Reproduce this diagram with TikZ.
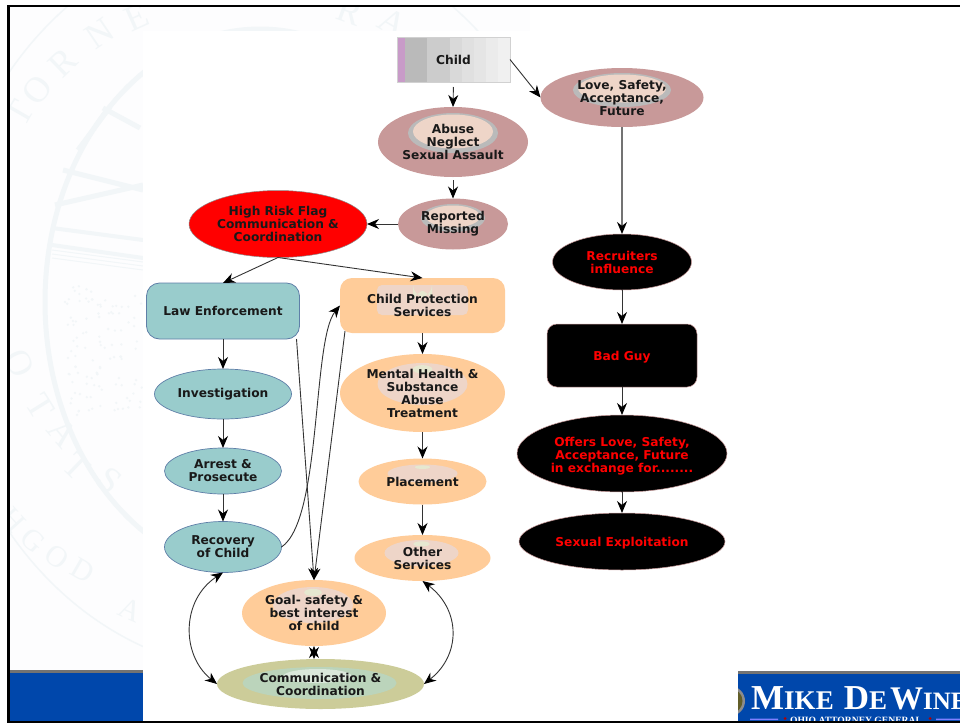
\documentclass[tikz,border=0pt]{standalone}
\usepackage{fontspec}
\setmainfont{DejaVu Sans}
\newfontfamily\logofont{Liberation Serif}
\usetikzlibrary{arrows.meta,calc,shapes.geometric}
\definecolor{sealtint}{HTML}{F2F6F8}
\definecolor{sealpage}{HTML}{FDFDFE}
\definecolor{rosefill}{HTML}{C89999}
\definecolor{tealfill}{HTML}{99CCCC}
\definecolor{tealedge}{HTML}{5F7FA8}
\definecolor{peachfill}{HTML}{FFCC99}
\definecolor{peachhalofill}{HTML}{EED5C8}
\definecolor{palegreen}{HTML}{E6E8D0}
\definecolor{olivefill}{HTML}{CCCC99}
\definecolor{sagefill}{HTML}{BBD4BB}
\definecolor{stripefill}{HTML}{C89BC8}
\definecolor{barblue}{HTML}{0047AB}
\begin{document}
\begin{tikzpicture}[
        x=1pt, y=1pt,
        >={Stealth[length=12pt,width=10pt,black]},
        softnode/.style={ellipse, inner xsep=-36pt, inner ysep=-12pt, outer sep=0pt, align=center, font=\fontsize{12.2}{13}\selectfont\bfseries, text=black!90},
        softbox/.style={rectangle, outer sep=0pt, align=center, font=\fontsize{12.2}{13}\selectfont\bfseries, text=black!90},
        rose/.style={softnode, fill=rosefill},
        teal/.style={softnode, fill=tealfill, draw=tealedge, line width=0.7pt},
        peach/.style={softnode, fill=peachfill},
        dark/.style={softnode, fill=black, draw=rosefill, line width=0.5pt, text=red},
        halotwin/.style n args={5}{path picture={
            \fill[#1] ($(path picture bounding box.center)+(#3)$) ellipse (#4 and #5);
            \fill[#2] ($(path picture bounding box.center)+(#3)+(0,1.5)$) ellipse ({#4-5} and {#5-3});}},
        peachhalo/.style n args={3}{path picture={
            \fill[peachhalofill] ($(path picture bounding box.center)+(#1)$) ellipse (#2 and #3);
            \fill[palegreen] ($(path picture bounding box.center)+(#1)+(0,#3*0.7)$) ellipse (#2*0.22 and #3*0.2);}},
        flow/.style={->, draw=black!80, line width=0.9pt},
        sealletter/.style={text=sealtint, font=\logofont\fontsize{36}{36}\selectfont}
    ]
        \useasboundingbox (0,-723) rectangle (960,0);
        \clip (0,-723) rectangle (960,0);

        % Faint seal behind the chart
        \fill[sealpage] (9,-723) rectangle (530,-5);
        \begin{scope}
            \clip (9,-723) rectangle (530,-5);
            \draw[sealtint, line width=5pt] (260,-302) ellipse (215 and 273);
            \draw[sealtint, line width=1.5pt] (260,-302) ellipse (320 and 370);
            \foreach \ch/\px/\py/\rot in {T/20/113/60, O/37/90/52, R/63/63/44, N/100/33/34, E/137/17/24, R/350/12/-20, A/393/23/-30,
                    O/20/363/-65, T/40/407/-58, A/63/433/-50, T/77/467/-44, S/110/480/-38}
                \node[sealletter, rotate=\rot] at (\px,-\py) {\ch};
            \foreach \ch/\px/\py/\rot in {H/13/520/-48, G/33/540/-42, O/57/557/-36, D/83/570/-30, A/130/610/-24}
                \node[sealletter, rotate=\rot, font=\logofont\fontsize{30}{30}\selectfont] at (\px,-\py) {\ch};
            % rays, hills and field
            \draw[sealtint, line width=5pt] (140,-128) -- (103,-108) (78,-150) -- (110,-107) (63,-170) -- (143,-190) (55,-205) -- (143,-185);
            \draw[sealtint, line width=4pt] (52,-228) -- (143,-240) (52,-245) -- (143,-258);
            \draw[sealtint, line width=1pt] (52,-250) -- (143,-262) (52,-254) -- (143,-266) (52,-258) -- (143,-270);
            \pgfmathsetseed{7}
            \foreach \dotnum in {1,...,110}
                \fill[sealtint] ({65+78*rnd},{-285-130*rnd}) circle (1.3);
        \end{scope}

        % White panel and footer bars
        \fill[white] (143,-723) rectangle (738,-31);
        \fill[black!55] (9,-673) rectangle (143,-670);
        \fill[barblue] (9,-721) rectangle (143,-673);
        \fill[black!55] (738,-674) rectangle (960,-671);
        \fill[barblue] (738,-721) rectangle (960,-674);
        \begin{scope}
            \clip (738,-721) rectangle (960,-674);
            \fill[black!45] (730,-701) circle (15);
            \fill[olive!60!black] (730,-701) circle (12.5);
            \node[anchor=base west, inner sep=0pt, text=white, font=\logofont\bfseries] (logoname) at (751,-709)
                {{\fontsize{35}{35}\selectfont M}{\fontsize{27}{27}\selectfont IKE}\hspace{10pt}{\fontsize{35}{35}\selectfont D}{\fontsize{27}{27}\selectfont E}\kern3pt{\fontsize{33}{33}\selectfont W}{\fontsize{25}{25}\selectfont INE}};
            \node[anchor=base, inner sep=0pt, text=white, font=\logofont\bfseries\fontsize{9.6}{11}\selectfont] (logotag) at (856,-723) {OHIO ATTORNEY GENERAL};
            \fill[blue!50!white] (750,-720) rectangle (778,-718.5) (936,-720) rectangle (960,-718.5);
            \fill[red!70!black] (785,-718.5) circle (1.5) (930,-718.5) circle (1.5);
        \end{scope}

        % Slide frame
        \fill[black] (7,-723) rectangle (9.5,-4.5);
        \fill[black] (7,-6.5) rectangle (960,-4.5);
        \fill[black] (7,-723) rectangle (960,-721);

        % Left column
        \node[softbox, minimum width=113pt, minimum height=45pt, fill=black!6, draw=black!18, line width=0.8pt,
            path picture={
                \fill[stripefill] (path picture bounding box.north west) rectangle ++(8,-45);
                \foreach \bandx/\bandw/\bandc in {8/22/27, 30/23/20, 53/12/15, 65/12/12, 77/12/10, 89/12/8}
                    \fill[black!\bandc] ($(path picture bounding box.north west)+(\bandx,0)$) rectangle ++(\bandw,-45);}] (child) at (453.5,-59.5) {Child};
        \node[rose, minimum width=150pt, minimum height=70pt, halotwin={black!27}{peachhalofill}{0,9}{45}{20}] (abuse) at (453,-142) {Abuse\\Neglect\\Sexual Assault};
        \node[rose, minimum width=110pt, minimum height=51pt, halotwin={black!27}{peachhalofill}{0,6}{32}{14}] (reported) at (453,-224) {Reported\\Missing};
        \node[softnode, fill=red, draw=black!45, line width=0.5pt, minimum width=178pt, minimum height=67pt] (flag) at (278,-224) {High Risk Flag\\Communication \&\\Coordination};

        \node[softbox, fill=tealfill, draw=tealedge, line width=0.8pt, rounded corners=13pt, minimum width=153pt, minimum height=56pt] (police) at (223,-311) {Law Enforcement};
        \node[teal, minimum width=137pt, minimum height=50pt] (investigation) at (223,-394) {Investigation};
        \node[teal, minimum width=117pt, minimum height=46pt] (arrest) at (223,-471) {Arrest \&\\Prosecute};
        \node[teal, minimum width=117pt, minimum height=51pt] (recovery) at (223,-547) {Recovery\\of Child};

        % Middle column
        \node[softbox, fill=peachfill, rounded corners=12pt, minimum width=165pt, minimum height=55pt,
            path picture={
                \fill[peachhalofill, rounded corners=5pt] ($(path picture bounding box.center)+(-45.5,20.5)$) rectangle ++(91,-30);
                \fill[palegreen] ($(path picture bounding box.center)+(-9.5,14.5)$) rectangle ++(19,-6);}] (cps) at (422.5,-305.5) {Child Protection\\Services};
        \node[peach, minimum width=165pt, minimum height=78pt, peachhalo={0,9}{45}{21}] (mental) at (422.5,-393) {Mental Health \&\\Substance\\Abuse\\Treatment};
        \node[peach, minimum width=128pt, minimum height=46pt, peachhalo={0,8}{35}{9}] (placement) at (422.5,-481.5) {Placement};
        \node[peach, minimum width=136pt, minimum height=46pt, peachhalo={-1,5}{37}{13}] (other) at (422.5,-558) {Other\\Services};
        \node[peach, minimum width=144pt, minimum height=66pt, peachhalo={-1,8}{40}{18}] (goal) at (314,-613) {Goal- safety \&\\best interest\\of child};
        \node[softnode, fill=olivefill, minimum width=207pt, minimum height=50pt,
            path picture={
                \fill[sagefill] ($(path picture bounding box.center)+(-1,1)$) ellipse (77 and 16);
                \fill[sagefill!55!white] ($(path picture bounding box.center)+(-3,8)$) ellipse (34 and 7);}] (comm) at (320.5,-684) {Communication \&\\Coordination};

        % Right column
        \node[rose, minimum width=163pt, minimum height=59pt, halotwin={black!27}{peachhalofill}{0,7.5}{49}{17}] (love) at (622,-97.5) {Love, Safety,\\Acceptance,\\Future};
        \node[dark, minimum width=139pt, minimum height=56pt] (recruiters) at (622,-262) {Recruiters\\influence};
        \node[softbox, fill=black, draw=rosefill, line width=0.5pt, text=red, rounded corners=10pt, minimum width=150pt, minimum height=63pt, text height=12pt] (badguy) at (622,-355.5) {Bad Guy};
        \node[dark, minimum width=210pt, minimum height=77pt] (offers) at (622,-453.5) {\rule{0pt}{14.5pt}Offers Love, Safety,\\Acceptance, Future\\in exchange for........};
        \node[dark, minimum width=206pt, minimum height=57pt, text height=13pt] (exploitation) at (622,-541.5) {Sexual Exploitation};

        % Connectors
        \draw[flow, shorten <=5pt] (child.south) -- (abuse.north);
        \draw[flow] (child.east) -- (love.west);
        \draw[flow, shorten <=3pt] (abuse.south) -- (reported.north);
        \draw[flow] (reported.west) -- (flag.east);
        \draw[flow] (flag.south) -- (police.north);
        \draw[flow] (flag.south) -- (cps.north);
        \draw[flow] (police) -- (investigation);
        \draw[flow] (investigation) -- (arrest);
        \draw[flow] (arrest) -- (recovery);
        \draw[flow] (cps) -- (mental);
        \draw[flow] (mental) -- (placement);
        \draw[flow] (placement) -- (other);
        \draw[flow] (police.south east) ++(-3,0) coordinate (policeout) (policeout) -- (goal.north);
        \draw[flow] (cps.south west) ++(5,2) coordinate (cpsout) (cpsout) -- (goal.north);
        \draw[flow] (recovery.east) .. controls (322,-520) and (312,-340) .. (cps.west);
        \draw[flow, <->] (recovery.south) .. controls (181,-600) and (181,-655) .. (comm.west);
        \draw[flow, <->] (other.south) .. controls (461,-610) and (461,-655) .. (comm.east);
        \draw[flow, <->] (goal.south) -- (comm.north -| goal.south);
        \draw[flow, draw=black!55, line width=1.3pt] (love.south) -- (recruiters.north);
        \draw[flow] (recruiters) -- (badguy);
        \draw[flow] (badguy) -- (offers);
        \draw[flow] (offers) -- (exploitation);
    \end{tikzpicture}
\end{document}
